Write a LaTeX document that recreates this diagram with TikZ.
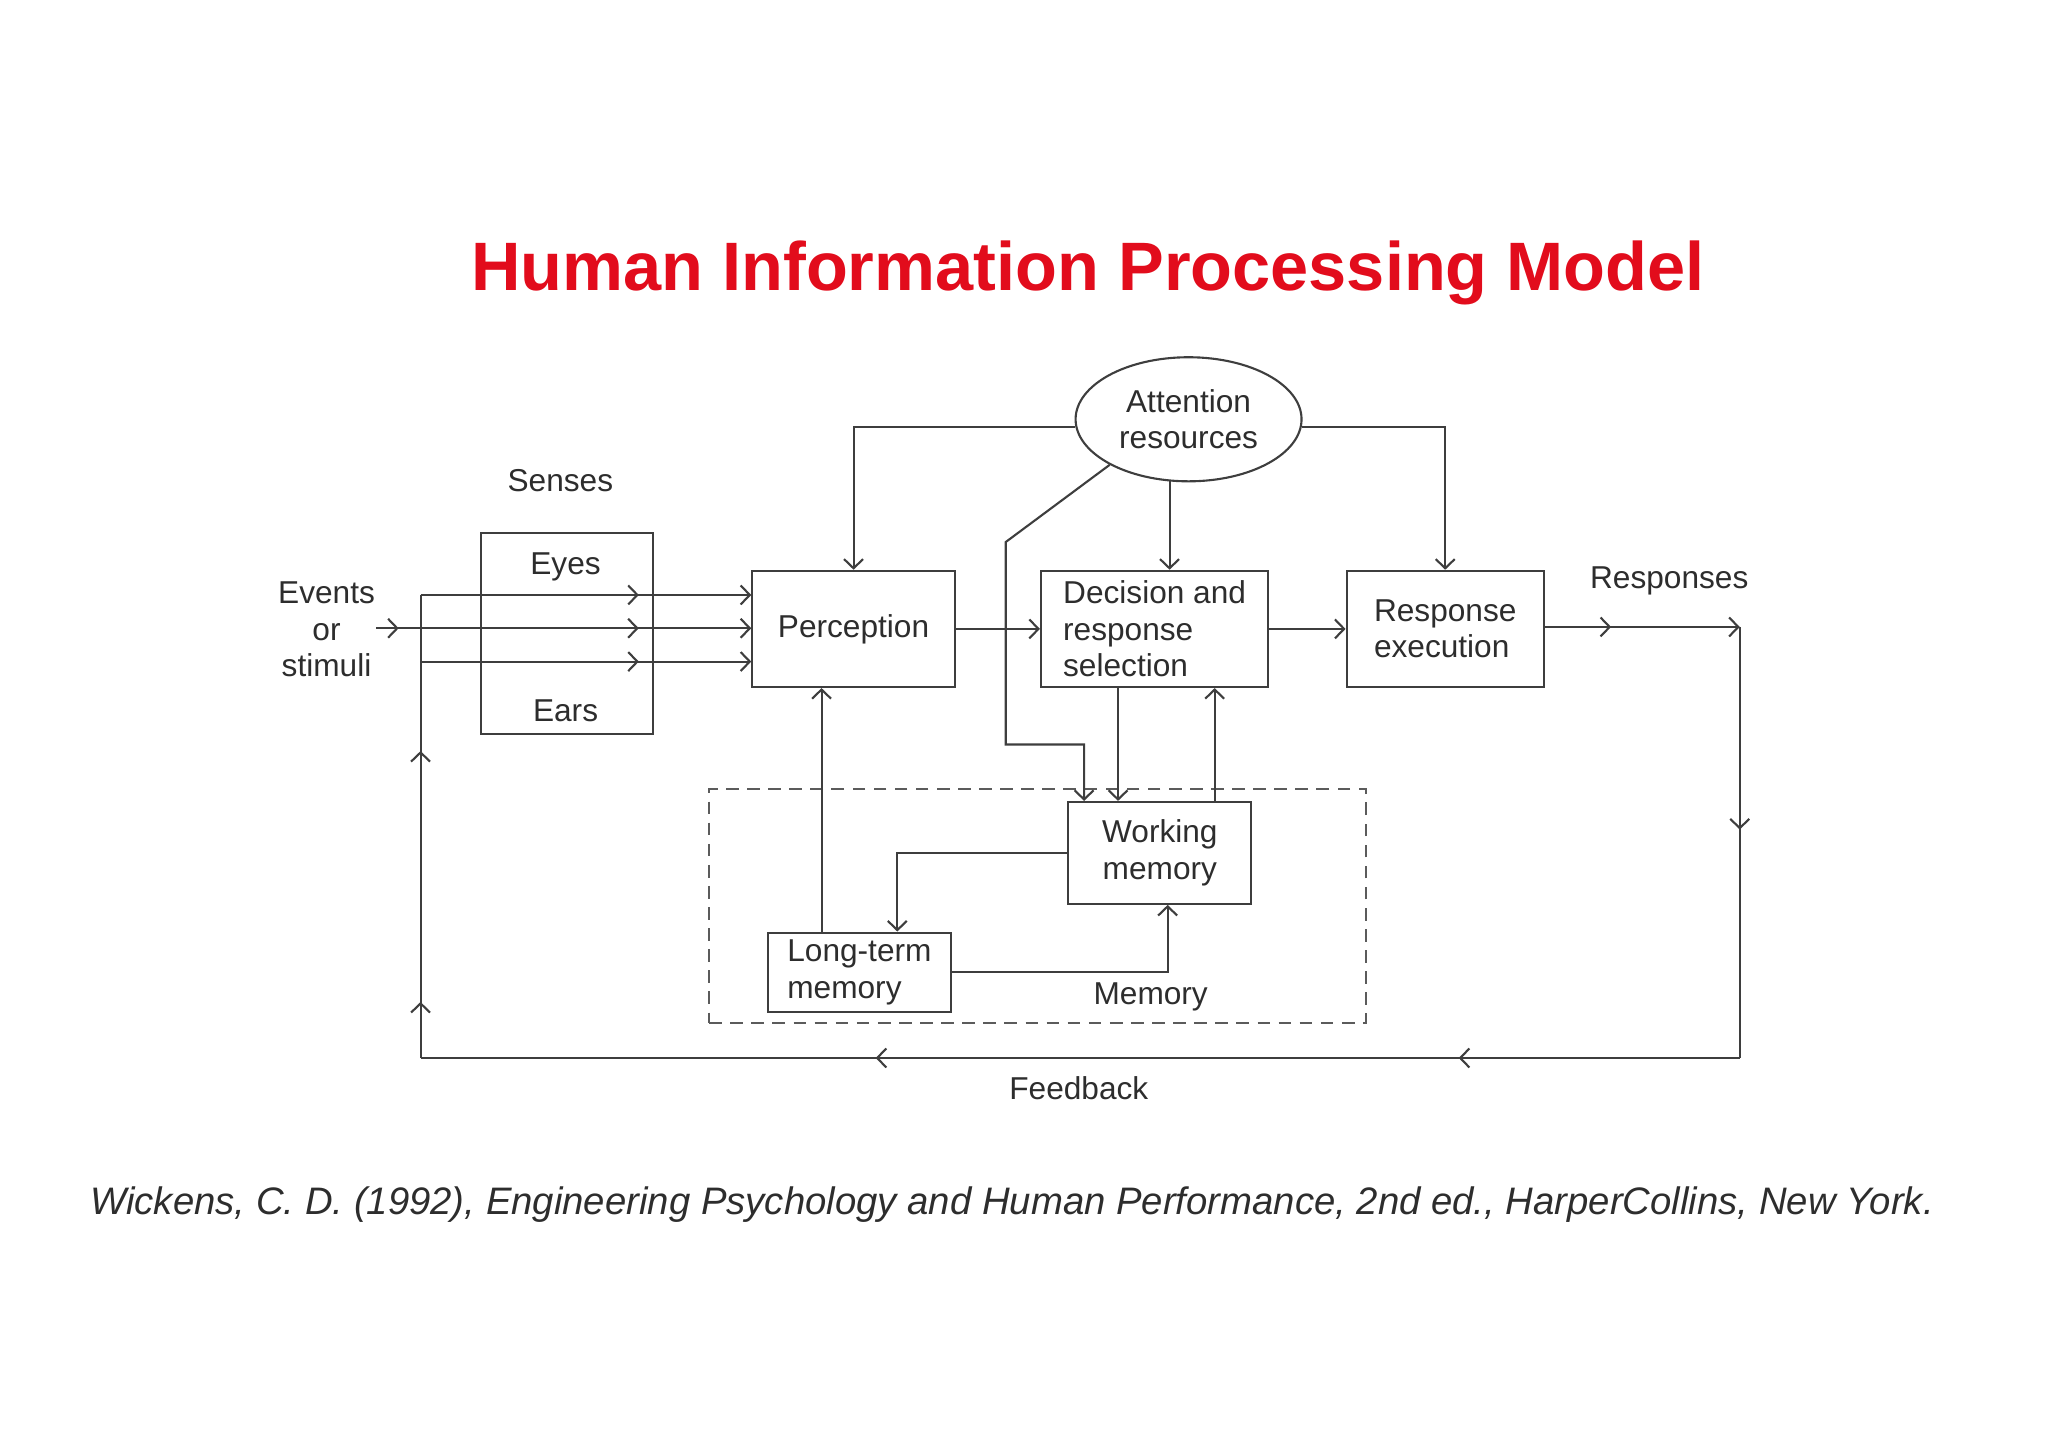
\documentclass[tikz,border=0pt]{standalone}
\usepackage{fontspec}
\setmainfont{Liberation Sans}
\usepackage{xcolor}
\usetikzlibrary{arrows.meta, calc, positioning, shapes.geometric, decorations.markings}

\definecolor{titlered}{RGB}{226,12,28}
\definecolor{inkgray}{RGB}{62,62,62}
\definecolor{textgray}{RGB}{45,45,45}
\newcommand{\upx}{0.013061cm}
\newcommand{\diagfont}{\fontsize{9}{10.4}\selectfont}

\begin{document}
\begin{tikzpicture}[x=\upx, y=-\upx, >={Straight Barb[length=2.6pt,width=5.4pt]},
    line/.style={draw=inkgray, line width=0.6pt},
    flow/.style={line, ->},
    box/.style={line, rectangle, inner sep=0pt, align=left, font=\diagfont, text=textgray},
    label/.style={font=\diagfont, text=textgray, align=center, inner sep=0pt},
    tipat/.style={postaction={decorate, decoration={markings, mark=at position #1 with {\arrow{>}}}}}]
        \useasboundingbox (0,0) rectangle (1568,1109);

        % --- Title ---
        \node[font=\fontsize{19.5}{23}\selectfont\bfseries, text=titlered] (title) at (833,209) {Human Information Processing Model};

        % --- Senses ---
        \node[label] (senseslbl) at (429,368) {Senses};
        \node[box, minimum width=132*\upx, minimum height=154*\upx] (senses) at (434,485) {};
        \node[label] (eyes) at (433,434) {Eyes};
        \node[label] (ears) at (433,544) {Ears};

        % --- Stimuli ---
        \node[label] (events) at (250,482) {Events\\or\\stimuli};
        \coordinate (stim) at (288,481);
        \coordinate (eyein) at (322,455.5);
        \coordinate (earin) at (322,506.5);

        % --- Stages ---
        \node[box, minimum width=155*\upx, minimum height=89*\upx] (percep) at (653.5,481.5) {Perception};
        \node[box, minimum width=174*\upx, minimum height=89*\upx] (decide) at (884,481.5) {Decision and\\response\\selection};
        \node[box, minimum width=151*\upx, minimum height=89*\upx] (respond) at (1106.5,481.5) {Response\\execution};
        \node[ellipse, line, inner sep=0pt, minimum width=173*\upx, minimum height=95*\upx, font=\diagfont, text=textgray, align=center] (attn) at (910,321) {Attention\\resources};

        % --- Memory ---
        \node[draw=inkgray!85, line width=0.6pt, dash pattern=on 3.6pt off 2.4pt, minimum width=503*\upx, minimum height=179*\upx] (memarea) at (794.5,693.5) {};
        \node[box, align=center, minimum width=140*\upx, minimum height=78*\upx] (wm) at (888,653) {Working\\memory};
        \node[box, minimum width=140*\upx, minimum height=61*\upx] (ltm) at (658,744.5) {Long-term\\memory};
        \node[label] (memlbl) at (881,763) {Memory};

        % --- Output and feedback ---
        \node[label] (resplbl) at (1278,445) {Responses};
        \node[label] (fblbl) at (826,833) {Feedback};
        \coordinate (outcorner) at (1332,480);
        \coordinate (fbright) at (1332,810);
        \coordinate (fbleft) at (322,810);
        \coordinate (bend) at (770,415);
        \coordinate (wmtap) at (830,570);
        \coordinate (dn) at ($(decide.south)+(-28,0)$);
        \coordinate (upw) at ($(decide.south)+(46,0)$);
        \coordinate (ltup) at ($(percep.south)+(-24.5,0)$);

        % --- Input arrows ---
        \draw[flow, tipat=0.06, tipat=0.7] (stim) -- (percep.west |- stim);
        \draw[flow, tipat=0.66] (eyein) -- (percep.west |- eyein);
        \draw[flow, tipat=0.66] (earin) -- (percep.west |- earin);

        % --- Main chain ---
        \draw[flow] (percep) -- (decide);
        \draw[flow] (decide) -- (respond);
        \draw[flow, tipat=0.34] (respond.east |- outcorner) -- (outcorner);
        \draw[line, tipat=0.47] (outcorner) -- (fbright);
        \draw[line, tipat=0.213, tipat=0.655] (fbright) -- (fbleft);
        \draw[line, tipat=0.121, tipat=0.663] (fbleft) -- (eyein);

        % --- Attention ---
        \draw[flow] (attn.184) -| (percep.north);
        \draw[flow] (attn.356) -| (respond.north);
        \draw[flow] (attn.253) -- (attn.253 |- decide.north);
        \draw[flow] (attn.210) -- (bend) |- (wmtap) -- (wmtap |- wm.north);

        % --- Memory links ---
        \draw[flow] (dn) -- (dn |- wm.north);
        \draw[flow] (upw |- wm.north) -- (upw);
        \draw[flow] (ltup |- ltm.north) -- (ltup);
        \draw[flow] (wm.west) -| ($(ltm.north)+(29,0)$);
        \draw[flow] (ltm.east) -| ($(wm.south)+(6,0)$);

        % --- Source ---
        \node[font=\fontsize{10.9}{13}\selectfont\itshape, text=textgray] (cite) at (775,922) {Wickens, C. D. (1992), Engineering Psychology and Human Performance, 2nd ed., HarperCollins, New York.};
    \end{tikzpicture}
\end{document}
